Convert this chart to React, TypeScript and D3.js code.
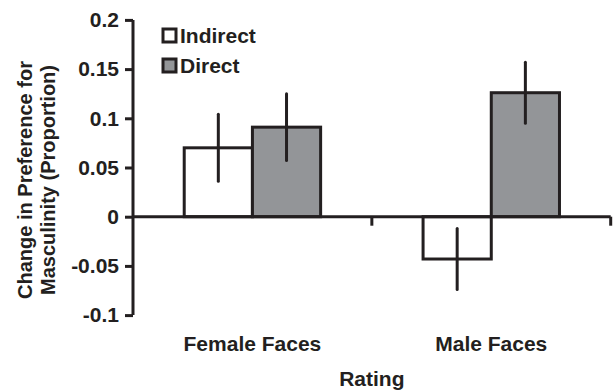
import * as d3 from "d3";
import { useEffect, useRef } from "react";

const categories = ["Female Faces", "Male Faces"];
const series = ["Indirect", "Direct"];
const indirectValues = [0.07, -0.043];
const directValues = [0.091, 0.126];
const indirectErrors = [0.034, 0.031];
const directErrors = [0.034, 0.031];
const yTicks = [-0.1, -0.05, 0, 0.05, 0.1, 0.15, 0.2];
const yTickLabels = ["-0.1", "-0.05", "0", "0.05", "0.1", "0.15", "0.2"];

const ink = "#231f20";
const font = "'Liberation Sans', Arial, Helvetica, sans-serif";

function App() {
  const svgRef = useRef<SVGSVGElement>(null);
  const width = 613;
  const height = 391;

  useEffect(() => {
    const svg = d3.select(svgRef.current);
    svg.selectAll("*").remove();

    const yScale = d3.scaleLinear().domain([-0.1, 0.2]).range([315.1, 19.9]);
    const xScale = d3.scaleBand().domain(categories).range([133, 610.7]).padding(0);
    const xInner = d3
      .scaleBand()
      .domain(series)
      .range([0, xScale.bandwidth()])
      .paddingInner(0)
      .paddingOuter(0.751);
    const fill = d3.scaleOrdinal<string>().domain(series).range(["#ffffff", "#939598"]);

    const rows = categories.flatMap((c, i) => [
      { cat: c, s: "Indirect", v: indirectValues[i], e: indirectErrors[i] },
      { cat: c, s: "Direct", v: directValues[i], e: directErrors[i] },
    ]);

    // bars
    svg
      .append("g")
      .selectAll("rect")
      .data(rows)
      .join("rect")
      .attr("x", (d) => xScale(d.cat)! + xInner(d.s)!)
      .attr("y", (d) => yScale(Math.max(0, d.v)))
      .attr("width", xInner.bandwidth())
      .attr("height", (d) => Math.abs(yScale(d.v) - yScale(0)))
      .attr("fill", (d) => fill(d.s))
      .attr("stroke", ink)
      .attr("stroke-width", 3);

    // error bars
    svg
      .append("g")
      .selectAll("line")
      .data(rows)
      .join("line")
      .attr("x1", (d) => xScale(d.cat)! + xInner(d.s)! + xInner.bandwidth() / 2)
      .attr("x2", (d) => xScale(d.cat)! + xInner(d.s)! + xInner.bandwidth() / 2)
      .attr("y1", (d) => yScale(d.v + d.e))
      .attr("y2", (d) => yScale(d.v - d.e))
      .attr("stroke", ink)
      .attr("stroke-width", 3)
      .attr("stroke-linecap", "round");

    // y axis
    const yAxis = d3
      .axisLeft(yScale)
      .tickValues(yTicks)
      .tickSize(8)
      .tickPadding(6)
      .tickFormat((d, i) => yTickLabels[i]);
    const gy = svg.append("g").attr("transform", "translate(133,0)").call(yAxis);
    gy.select(".domain").attr("stroke", ink).attr("stroke-width", 3).attr("d", `M0,${yScale(0.2)}V${yScale(-0.1)}`);
    gy.selectAll(".tick line").attr("stroke", ink).attr("stroke-width", 3);
    gy.selectAll(".tick text")
      .attr("fill", ink)
      .style("font-family", font)
      .style("font-weight", "bold")
      .style("font-size", "21px");

    // x axis on zero line
    const gx = svg.append("g").attr("transform", `translate(0,${yScale(0)})`);
    gx.append("line")
      .attr("x1", 133)
      .attr("x2", 610.7)
      .attr("stroke", ink)
      .attr("stroke-width", 3);
    gx.selectAll(".xtick")
      .data(categories)
      .join("line")
      .attr("class", "xtick")
      .attr("x1", (d) => xScale(d)! + xScale.bandwidth())
      .attr("x2", (d) => xScale(d)! + xScale.bandwidth())
      .attr("y1", 0)
      .attr("y2", 9)
      .attr("stroke", ink)
      .attr("stroke-width", 3);

    // category labels
    svg
      .append("g")
      .selectAll("text")
      .data(categories)
      .join("text")
      .attr("x", (d) => xScale(d)! + xScale.bandwidth() / 2)
      .attr("y", 351)
      .attr("text-anchor", "middle")
      .attr("fill", ink)
      .style("font-family", font)
      .style("font-weight", "bold")
      .style("font-size", "21px")
      .text((d) => d);

    svg
      .append("text")
      .attr("x", (133 + 610.7) / 2)
      .attr("y", 386)
      .attr("text-anchor", "middle")
      .attr("fill", ink)
      .style("font-family", font)
      .style("font-weight", "bold")
      .style("font-size", "21px")
      .text("Rating");

    // y title
    const yt = svg
      .append("text")
      .attr("transform", `translate(0,180) rotate(-90)`)
      .attr("text-anchor", "middle")
      .attr("fill", ink)
      .style("font-family", font)
      .style("font-weight", "bold")
      .style("font-size", "20px");
    yt.append("tspan").attr("x", 0).attr("y", 32).text("Change in Preference for");
    yt.append("tspan").attr("x", 0).attr("y", 55).text("Masculinity (Proportion)");

    // legend
    const leg = svg
      .append("g")
      .selectAll("g")
      .data(series)
      .join("g")
      .attr("transform", (d, i) => `translate(163,${29 + i * 30})`);
    leg
      .append("rect")
      .attr("width", 13)
      .attr("height", 13)
      .attr("fill", (d) => fill(d))
      .attr("stroke", ink)
      .attr("stroke-width", 3);
    leg
      .append("text")
      .attr("x", 17)
      .attr("y", 14)
      .attr("fill", ink)
      .style("font-family", font)
      .style("font-weight", "bold")
      .style("font-size", "21px")
      .text((d) => d);
  }, []);

  return (
    <svg
      ref={svgRef}
      width={width}
      height={height}
      style={{ position: "absolute", left: 0, top: 0, background: "#fff" }}
    ></svg>
  );
}

export default App;
